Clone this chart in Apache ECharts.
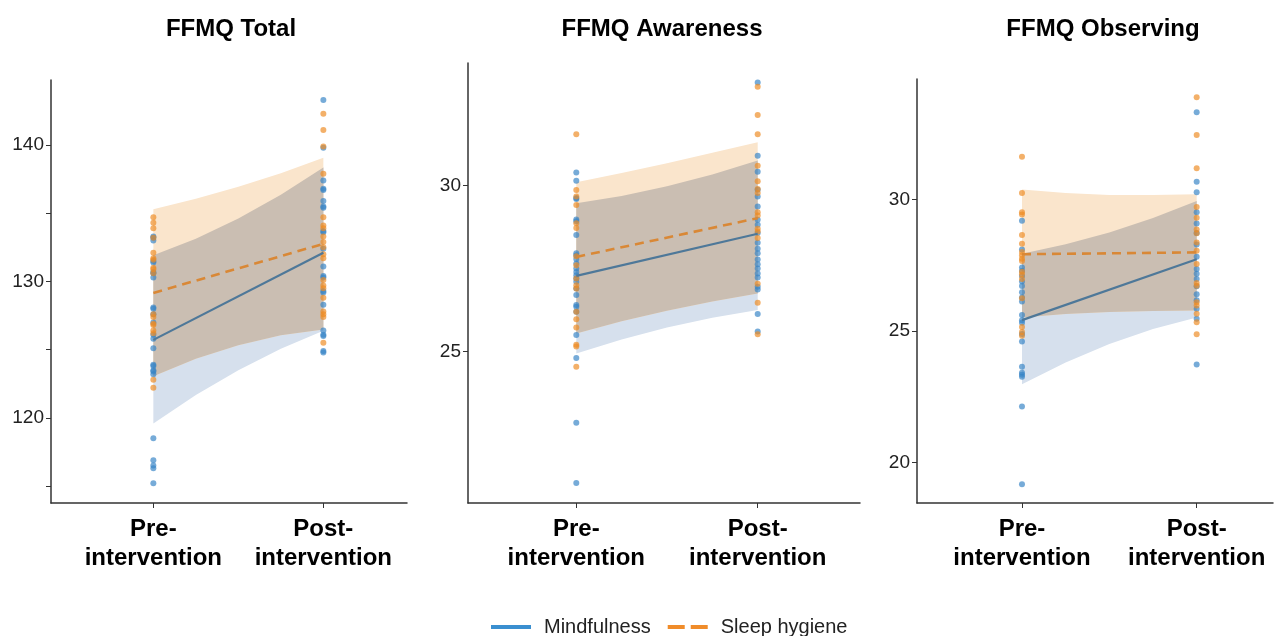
<!DOCTYPE html>
<html>
<head>
<meta charset="utf-8">
<script src="https://cdn.jsdelivr.net/npm/echarts@6.0.0/dist/echarts.min.js"></script>
<style>
  html, body { margin: 0; padding: 0; background: #fff; }
  #main { width: 1278px; height: 636px; }
</style>
</head>
<body>
<div id="main"></div>
<script>
// categories
const groups = ['Mindfulness', 'Sleep hygiene'];
const timeLabels = ['Pre-\nintervention', 'Post-\nintervention'];
const panelTitles = ['FFMQ Total', 'FFMQ Awareness', 'FFMQ Observing'];
const ribbonX = [1, 1.25, 1.5, 1.75, 2];

// FFMQ Total
const totalMindPre = [133.3, 133.2, 133.0, 131.5, 131.4, 130.7, 130.6, 130.3, 128.1, 128.0, 127.6, 127.0, 126.1, 125.8, 125.1, 123.9, 123.8, 123.5, 123.4, 123.2, 118.5, 116.9, 116.5, 116.3, 115.2];
const totalMindPost = [143.3, 139.8, 137.4, 136.8, 136.7, 135.9, 135.5, 135.4, 133.7, 133.6, 132.4, 131.1, 130.4, 130.3, 129.3, 129.2, 128.3, 126.4, 126.1, 126.0, 124.9, 124.8];
const totalSleepPre = [134.7, 134.3, 133.9, 133.2, 132.1, 131.7, 131.6, 131.0, 130.9, 130.6, 127.6, 127.4, 126.9, 126.8, 126.4, 126.2, 122.8, 122.2];
const totalSleepPost = [142.3, 141.1, 139.9, 137.9, 134.7, 134.1, 133.9, 133.3, 132.9, 132.5, 132.0, 131.7, 130.1, 129.7, 129.5, 128.8, 127.8, 127.6, 127.4, 125.5];
const totalMindFit = [125.72, 132.1];
const totalSleepFit = [129.16, 132.76];
const totalMindLo = [119.59, 121.67, 123.49, 125.06, 126.38];
const totalMindHi = [131.93, 133.14, 134.62, 136.36, 138.36];
const totalSleepLo = [123.05, 124.33, 125.33, 126.05, 126.48];
const totalSleepHi = [135.3, 136.06, 136.94, 137.94, 139.07];
const totalTicks = [115, 120, 125, 130, 135, 140];
const totalLabels = [120, 130, 140];

// FFMQ Awareness
const awareMindPre = [30.4, 30.15, 29.63, 29.6, 28.98, 28.93, 28.51, 27.96, 27.9, 27.79, 27.65, 27.5, 27.4, 27.3, 27.2, 27.1, 26.9, 26.7, 26.4, 26.35, 26.2, 25.5, 24.8, 22.85, 21.03];
const awareMindPost = [33.11, 30.9, 30.42, 29.88, 29.67, 29.37, 28.97, 28.82, 28.57, 28.28, 28.1, 27.96, 27.77, 27.63, 27.5, 27.35, 27.23, 26.95, 26.87, 26.13, 25.6];
const awareSleepPre = [31.55, 29.87, 29.67, 29.42, 28.87, 28.72, 27.87, 27.6, 27.2, 27.0, 26.9, 26.2, 25.97, 25.72, 25.2, 25.15, 24.54];
const awareSleepPost = [32.98, 32.13, 31.55, 30.6, 30.13, 29.9, 29.78, 29.2, 29.1, 28.7, 28.62, 28.42, 27.04, 26.47, 25.52];
const awareMindFit = [27.28, 28.55];
const awareSleepFit = [27.85, 29.02];
const awareMindLo = [24.94, 25.36, 25.72, 26.02, 26.25];
const awareMindHi = [29.47, 29.69, 29.98, 30.34, 30.76];
const awareSleepLo = [25.54, 25.91, 26.23, 26.51, 26.75];
const awareSleepHi = [30.10, 30.38, 30.68, 30.99, 31.31];
const awareTicks = [25, 30];
const awareLabels = [25, 30];

// FFMQ Observing
const obsMindPre = [29.19, 28.1, 27.41, 27.28, 27.09, 26.88, 26.71, 26.47, 26.27, 26.12, 25.61, 25.41, 25.31, 24.88, 24.6, 23.64, 23.41, 23.33, 23.26, 22.12, 19.16];
const obsMindPost = [33.32, 30.68, 30.28, 29.52, 29.09, 28.73, 28.29, 27.82, 27.36, 27.18, 26.98, 26.7, 26.4, 26.17, 25.84, 25.46, 23.72];
const obsSleepPre = [31.63, 30.25, 29.52, 29.43, 28.65, 28.32, 28.0, 27.88, 27.75, 27.66, 27.25, 27.15, 26.98, 26.24, 25.15, 24.96, 24.82];
const obsSleepPost = [33.9, 32.46, 31.19, 29.72, 29.31, 28.86, 28.72, 28.37, 28.05, 27.55, 26.82, 26.72, 26.09, 25.97, 25.65, 25.33, 24.87];
const obsMindFit = [25.41, 27.73];
const obsSleepFit = [27.92, 27.99];
const obsMindLo = [22.97, 23.80, 24.5, 25.07, 25.51];
const obsMindHi = [27.94, 28.30, 28.75, 29.30, 29.95];
const obsSleepLo = [25.51, 25.64, 25.72, 25.76, 25.78];
const obsSleepHi = [30.38, 30.25, 30.17, 30.17, 30.2];
const obsTicks = [20, 25, 30];
const obsLabels = [20, 25, 30];

const FONT = '"Liberation Sans", Arial, sans-serif';
const BLUE_PT = '#3583c6', ORANGE_PT = '#ee8a22';
const BLUE_LINE = '#4e7899', ORANGE_LINE = '#d98836';
const BLUE_FILL = '#d6e0ed', ORANGE_FILL = '#fae5cc', BOTH_FILL = '#cabeb2';

const panels = [
  { grid: {left: 51, top: 80, width: 356, height: 423}, titleX: 231, xMin: 0.398, xMax: 2.492, yMin: 113.76, yMax: 144.77,
    ticks: totalTicks, labels: totalLabels,
    mind: [totalMindPre, totalMindPost, totalMindFit, totalMindLo, totalMindHi],
    sleep: [totalSleepPre, totalSleepPost, totalSleepFit, totalSleepLo, totalSleepHi] },
  { grid: {left: 468, top: 63, width: 392, height: 440}, titleX: 662, xMin: 0.403, xMax: 2.564, yMin: 20.43, yMax: 33.70,
    ticks: awareTicks, labels: awareLabels,
    mind: [awareMindPre, awareMindPost, awareMindFit, awareMindLo, awareMindHi],
    sleep: [awareSleepPre, awareSleepPost, awareSleepFit, awareSleepLo, awareSleepHi] },
  { grid: {left: 917, top: 79, width: 356, height: 424}, titleX: 1103, xMin: 0.399, xMax: 2.437, yMin: 18.45, yMax: 34.59,
    ticks: obsTicks, labels: obsLabels,
    mind: [obsMindPre, obsMindPost, obsMindFit, obsMindLo, obsMindHi],
    sleep: [obsSleepPre, obsSleepPost, obsSleepFit, obsSleepLo, obsSleepHi] }
];

function ribbon(idx, lo, hi, color, z) {
  return {
    type: 'custom', name: 'band', xAxisIndex: idx, yAxisIndex: idx, z: z, silent: true,
    data: ribbonX.map((x, i) => [x, lo[i], hi[i]]),
    renderItem: function (params, api) {
      if (params.dataIndex !== 0) return;
      const top = ribbonX.map((x, i) => api.coord([x, hi[i]]));
      const bot = ribbonX.map((x, i) => api.coord([x, lo[i]])).reverse();
      return {type: 'polygon', shape: {points: top.concat(bot)}, style: {fill: color}};
    }
  };
}

function points(idx, pre, post, color) {
  return {
    type: 'scatter', name: 'pts', xAxisIndex: idx, yAxisIndex: idx, z: 4, silent: true,
    symbolSize: 6,
    itemStyle: {color: color, opacity: 0.68},
    data: pre.map(v => [1, v]).concat(post.map(v => [2, v]))
  };
}

const grids = [], xAxes = [], yAxes = [], series = [], graphics = [];
panels.forEach((p, i) => {
  grids.push(p.grid);
  xAxes.push({
    type: 'value', gridIndex: i, min: p.xMin, max: p.xMax,
    axisLine: {show: true, lineStyle: {color: '#333', width: 1.5}},
    axisTick: {show: true, length: 5, customValues: [1, 2], lineStyle: {color: '#333'}},
    axisLabel: {
      customValues: [1, 2], formatter: v => timeLabels[Math.round(v) - 1],
      fontSize: 24, fontWeight: 'bold', color: '#000', lineHeight: 29, margin: 12, fontFamily: FONT
    },
    splitLine: {show: false}
  });
  yAxes.push({
    type: 'value', gridIndex: i, min: p.yMin, max: p.yMax,
    axisLine: {show: true, lineStyle: {color: '#333', width: 1.5}},
    axisTick: {show: true, length: 5, customValues: p.ticks, lineStyle: {color: '#333'}},
    axisLabel: {customValues: p.labels, fontSize: 19, color: '#222', margin: 7, fontFamily: FONT},
    splitLine: {show: false}
  });

  const ovLo = ribbonX.map((x, k) => Math.max(p.mind[3][k], p.sleep[3][k]));
  const ovHi = ribbonX.map((x, k) => Math.min(p.mind[4][k], p.sleep[4][k]));
  series.push(ribbon(i, p.mind[3], p.mind[4], BLUE_FILL, 1));
  series.push(ribbon(i, p.sleep[3], p.sleep[4], ORANGE_FILL, 1));
  series.push(ribbon(i, ovLo, ovHi, BOTH_FILL, 2));
  series.push(points(i, p.mind[0], p.mind[1], BLUE_PT));
  series.push(points(i, p.sleep[0], p.sleep[1], ORANGE_PT));
  series.push({
    type: 'line', name: groups[0], xAxisIndex: i, yAxisIndex: i, z: 5, symbol: 'none', silent: true,
    lineStyle: {color: BLUE_LINE, width: 2.2},
    data: [[1, p.mind[2][0]], [2, p.mind[2][1]]]
  });
  series.push({
    type: 'line', name: groups[1], xAxisIndex: i, yAxisIndex: i, z: 5, symbol: 'none', silent: true,
    lineStyle: {color: ORANGE_LINE, width: 2.6, type: [9, 6]},
    data: [[1, p.sleep[2][0]], [2, p.sleep[2][1]]]
  });

  graphics.push({
    type: 'text', x: p.titleX, y: 17,
    style: {text: panelTitles[i], fill: '#000', align: 'center', font: 'bold 24px ' + FONT}
  });
});

const chart = echarts.init(document.getElementById('main'));
chart.setOption({
  animation: false,
  backgroundColor: '#fff',
  grid: grids,
  xAxis: xAxes,
  yAxis: yAxes,
  series: series,
  graphic: graphics,
  legend: {
    left: 484, top: 612,
    itemWidth: 40, itemHeight: 14, itemGap: 15,
    textStyle: {fontSize: 20, color: '#222', fontFamily: FONT, padding: [0, 0, 0, 8]},
    data: [
      {name: groups[0], itemStyle: {opacity: 0}, lineStyle: {color: '#3a8fd0', width: 4, type: 'solid'}},
      {name: groups[1], itemStyle: {opacity: 0}, lineStyle: {color: '#f08c2a', width: 4, type: [17, 6]}}
    ]
  }
});
</script>
</body>
</html>
